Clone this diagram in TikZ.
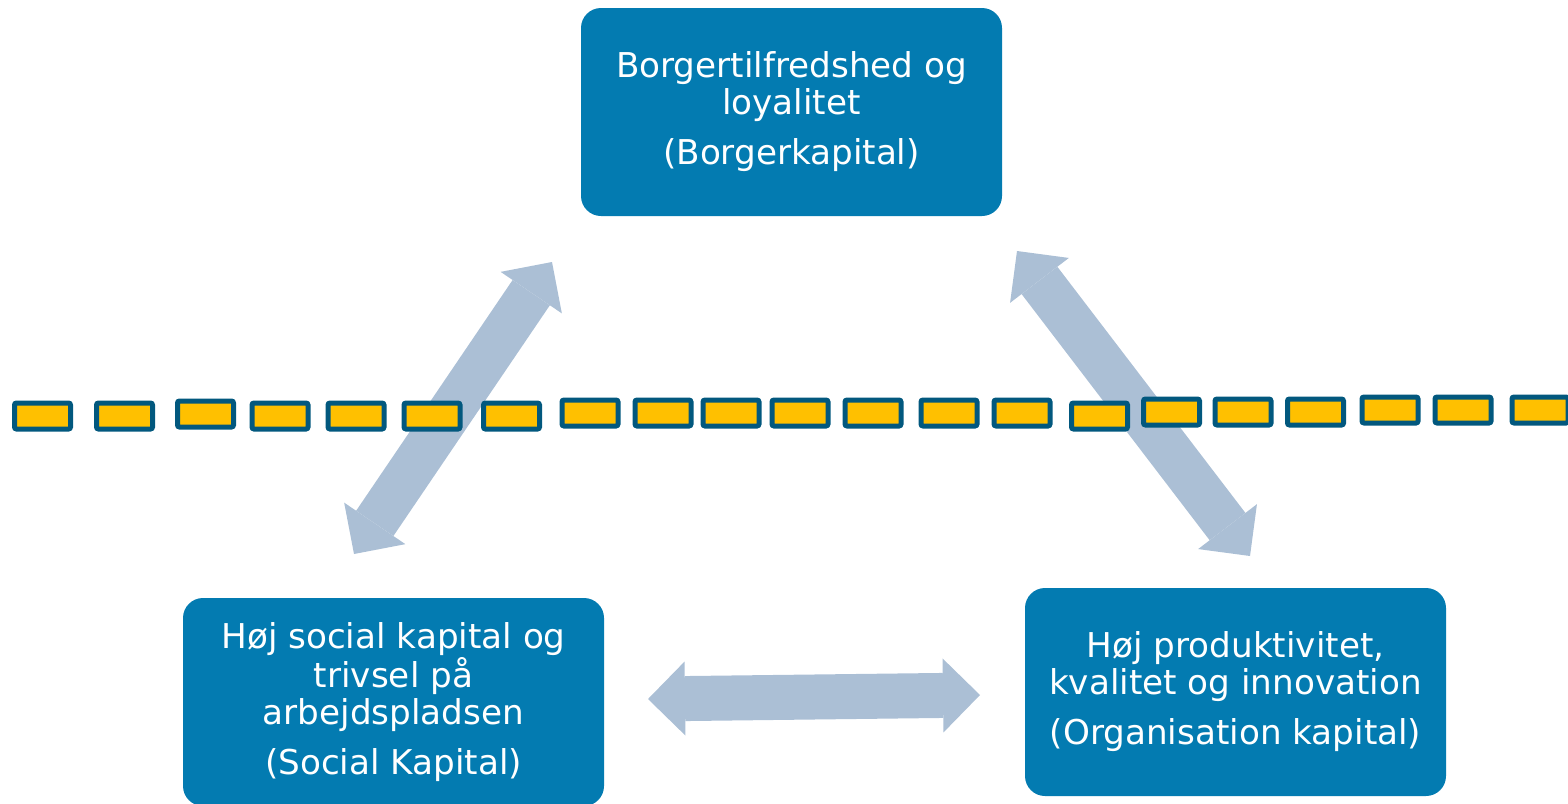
\documentclass[tikz,border=0pt]{standalone}
\usepackage{xcolor}
\usepackage{fontspec}
\setmainfont{DejaVu Sans}
\usepackage{tikz}
\usetikzlibrary{arrows.meta}

\definecolor{boxblue}{HTML}{037BB1}
\definecolor{arrowgray}{HTML}{ABBFD5}
\definecolor{dashyellow}{HTML}{FFC000}
\definecolor{dashedge}{HTML}{02587E}

\tikzset{
    kapital/.style={fill=boxblue, rounded corners=10pt, inner sep=0pt,
        minimum width=210.5pt, minimum height=104pt, text=white, align=center,
        font=\fontsize{17.1pt}{18.5pt}\selectfont},
    bigarrow/.style={draw=arrowgray, line width=22.5pt,
        >={Triangle[width=37pt,length=18.5pt,line width=0pt]}, <->},
    dashbox/.style={draw=dashedge, fill=dashyellow, line width=2.5pt, rounded corners=1pt}
}

\begin{document}
\begin{tikzpicture}[x=0.5pt, y=-0.5pt]
                \useasboundingbox (0,0) rectangle (1568,803);
                % the three boxes
                \node[kapital] (borger) at (791.5,112)
                    {Borgertilfredshed og\\loyalitet\\[6.5pt](Borgerkapital)};
                \node[kapital] (social) at (393.5,702)
                    {Høj social kapital og\\trivsel på\\arbejdspladsen\\[6.5pt](Social Kapital)};
                \node[kapital] (organ) at (1235.5,692)
                    {Høj produktivitet,\\kvalitet og innovation\\[6.5pt](Organisation kapital)};
                % arrow ends
                \coordinate (social-up) at (354,554);
                \coordinate (borger-left) at (552,262);
                \coordinate (borger-right) at (1017,251);
                \coordinate (organ-up) at (1250,556);
                \coordinate (social-right) at (648,699);
                \coordinate (organ-left) at (980,695);
                \draw[bigarrow] (social-up) -- (borger-left);
                \draw[bigarrow] (borger-right) -- (organ-up);
                \draw[bigarrow] (social-right) -- (organ-left);
                % the dashed line
                \foreach \x/\y in {42.5/416, 124.5/416, 205.5/414, 280/416, 356/416,
                        432/416, 511.5/416, 590/413, 663/413, 731/413, 800/413,
                        873/413, 949/413, 1022/413, 1099.5/416, 1171.5/412,
                        1243/412, 1315.5/412, 1390/410, 1463/410, 1540/410}
                    \draw[dashbox] (\x-28,\y-13) rectangle (\x+28,\y+13);
            \end{tikzpicture}
\end{document}
